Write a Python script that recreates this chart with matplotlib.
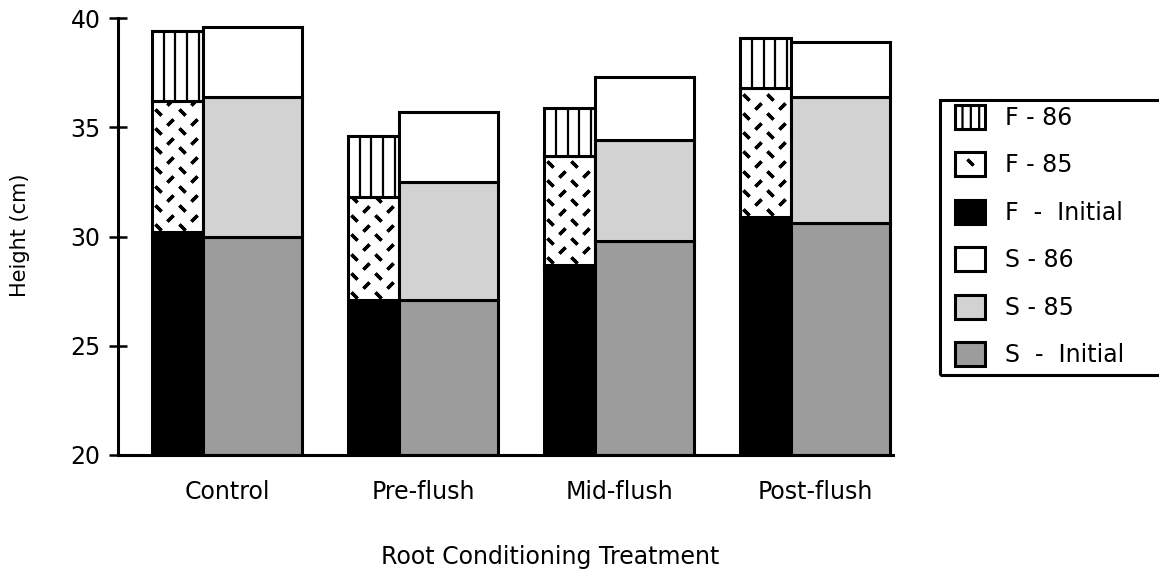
import numpy as np
import matplotlib.pyplot as plt
from matplotlib.patches import Patch, Rectangle
from matplotlib.lines import Line2D

plt.rcParams['font.family'] = ['DejaVu Sans']
plt.rcParams['hatch.linewidth'] = 1.6

# Daten (kumulative Höhen in cm)
categories = ['Control', 'Pre-flush', 'Mid-flush', 'Post-flush']
f_initial = [30.2, 27.1, 28.7, 30.9]
f_85 = [36.2, 31.8, 33.7, 36.8]
f_86 = [39.4, 34.6, 35.9, 39.1]
s_initial = [30.0, 27.1, 29.8, 30.6]
s_85 = [36.4, 32.5, 34.4, 36.4]
s_86 = [39.6, 35.7, 37.3, 38.9]
legend_labels = ['F - 86', 'F - 85', 'F  -  Initial', 'S - 86', 'S - 85', 'S  -  Initial']

# Stil
base = 20
f_width = 0.26
s_width = 0.505
lw = 2.2
s85_color = '#d2d2d2'
sin_color = '#9c9c9c'
fs = 17

fig = plt.figure(figsize=(11.59, 5.76), dpi=100)
ax = fig.add_axes([118 / 1159, 1 - 455 / 576, (893 - 118) / 1159, (455 - 18) / 576])

x = np.arange(len(categories))
f_initial = np.array(f_initial)
f_85 = np.array(f_85)
f_86 = np.array(f_86)
s_initial = np.array(s_initial)
s_85 = np.array(s_85)
s_86 = np.array(s_86)

# F-Balken
ax.bar(x, f_initial - base, width=f_width, bottom=base, align='edge',
       color='black', edgecolor='black', linewidth=lw)
bars_85 = ax.bar(x, f_85 - f_initial, width=f_width, bottom=f_initial, align='edge',
                 color='white', edgecolor='black', linewidth=lw)
bars_86 = ax.bar(x, f_86 - f_85, width=f_width, bottom=f_85, align='edge',
                 color='white', edgecolor='black', linewidth=lw)

# senkrechte Linien für F - 86
vx = 0.06
for i, patch in enumerate(bars_86.patches):
    xs = np.arange(x[i] + vx, x[i] + f_width - 0.01, vx)
    lc = ax.vlines(xs, f_85[i], f_86[i], color='black', linewidth=1.6)
    lc.set_clip_path(patch)

# Strichmuster für F - 85 (kurze schräge Striche, versetzte Reihen)
dx, dy = 0.122, 0.44
for i, patch in enumerate(bars_85.patches):
    gy = np.arange(f_initial[i] + dy / 2, f_85[i], dy)
    for j, yy in enumerate(gy):
        gx = np.arange(x[i] + dx / 4 + (j % 2) * dx / 2, x[i] + f_width, dx)
        ang = 45 if j % 2 == 0 else -45
        ln, = ax.plot(gx, np.full_like(gx, yy), ls='none', marker=(2, 2, ang),
                      markersize=6, markeredgewidth=2.4, color='black')
        ln.set_clip_path(patch)

# S-Balken
ax.bar(x + f_width, s_initial - base, width=s_width, bottom=base, align='edge',
       color=sin_color, edgecolor='black', linewidth=lw)
ax.bar(x + f_width, s_85 - s_initial, width=s_width, bottom=s_initial, align='edge',
       color=s85_color, edgecolor='black', linewidth=lw)
ax.bar(x + f_width, s_86 - s_85, width=s_width, bottom=s_85, align='edge',
       color='white', edgecolor='black', linewidth=lw)

# Achsen
ax.set_xlim(-0.173, 3.78)
ax.set_ylim(20, 40)
ax.set_yticks(np.arange(20, 41, 5))
ax.set_xticks(x + (f_width + s_width) / 2)
ax.set_xticklabels(categories)
for side in ['top', 'right']:
    ax.spines[side].set_visible(False)
for side in ['left', 'bottom']:
    ax.spines[side].set_linewidth(2.2)
ax.tick_params(axis='y', direction='inout', length=13, width=1.8, labelsize=fs, pad=6)
ax.tick_params(axis='x', length=0, labelsize=fs, pad=18)

ax.set_ylabel('Height (cm)', fontsize=15, va='center')
ax.yaxis.set_label_coords((20 - 118) / 775, (455 - 235) / 437)
ax.set_xlabel('Root Conditioning Treatment', fontsize=fs, va='center')
ax.xaxis.set_label_coords((550 - 118) / 775, -(557 - 455) / 437)

# Legende
handles = [
    Patch(facecolor='white', edgecolor='black', linewidth=lw, hatch='||'),
    (Patch(facecolor='white', edgecolor='black', linewidth=lw),
     Line2D([], [], ls='none', marker=(2, 2, 45), markersize=6, markeredgewidth=2.2, color='black')),
    Patch(facecolor='black', edgecolor='black', linewidth=lw),
    Patch(facecolor='white', edgecolor='black', linewidth=lw),
    Patch(facecolor=s85_color, edgecolor='black', linewidth=lw),
    Patch(facecolor=sin_color, edgecolor='black', linewidth=lw),
]
fig.legend(handles, legend_labels, loc='upper left',
           bbox_to_anchor=(938 / 1159, 1 - 88 / 576), frameon=False,
           fontsize=fs, handlelength=1.3, handleheight=1.2,
           handletextpad=0.85, labelspacing=0.95, borderpad=0.2)
fig.patches.append(Rectangle((940 / 1159, 1 - 375 / 576), 0.2, 275 / 576,
                             transform=fig.transFigure, fill=False,
                             edgecolor='black', linewidth=2.2))

plt.savefig('out.png', dpi=100)
